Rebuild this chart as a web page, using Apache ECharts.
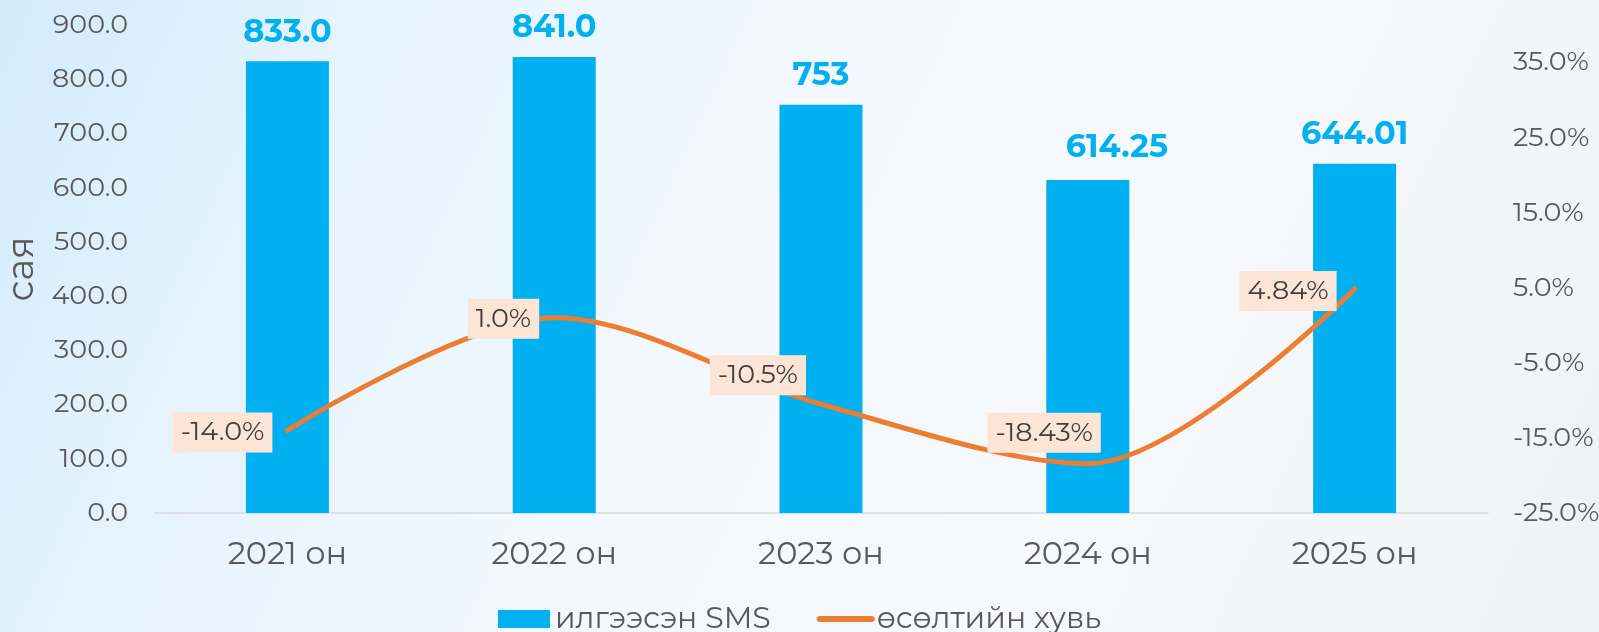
<!DOCTYPE html>
<html>
<head>
<meta charset="utf-8">
<title>SMS</title>
<script src="https://cdn.jsdelivr.net/npm/echarts@6/dist/echarts.min.js"></script>
<style>
    html, body {
        margin: 0;
        padding: 0;
    }
    #chart {
        width: 1599px;
        height: 632px;
        background: linear-gradient(115deg, #d3ebfa 0%, #e4f3fd 18%, #f1f8fe 42%, #f7f9fc 68%, #eef2f6 100%);
    }
</style>
</head>
<body>
<div id="chart"></div>
<script>
const categories = ['2021 он', '2022 он', '2023 он', '2024 он', '2025 он']
const smsValues = [833, 841, 753, 614.25, 644.01]
const smsLabels = ['833.0', '841.0', '753', '614.25', '644.01']
const growthValues = [-14.0, 1.0, -10.5, -18.43, 4.84]
const growthLabels = ['-14.0%', '1.0%', '-10.5%', '-18.43%', '4.84%']
const leftTicks = [0, 100, 200, 300, 400, 500, 600, 700, 800, 900]
const rightTicks = [-25, -15, -5, 5, 15, 25, 35]

const fontFamily = 'Montserrat, "Open Sans", sans-serif'
const barColor = '#00b0f0'
const lineColor = '#ed7d31'

// excel labels were dragged by hand, keep the same nudges
const smsLabelOffsets = [[0, 0], [0, 0], [0, 0], [29, -3], [0, 0]]
const growthLabelOffsets = [[0, 2], [0, 1], [0, -29], [28, -31], [-3, 2]]

const smsData = smsValues.map((v, i) => ({
    value: v,
    label: { offset: smsLabelOffsets[i] }
}))
const growthData = growthValues.map((v, i) => ({
    value: v,
    label: { offset: growthLabelOffsets[i] }
}))

const chart = echarts.init(document.getElementById('chart'))

const option = {
    animation: false,
    textStyle: { fontFamily },
    grid: {
        left: 154,
        right: 111,
        top: 25,
        bottom: 119,
        containLabel: false,
        outerBoundsMode: 'none'
    },
    legend: {
        left: 'center',
        top: 599,
        itemWidth: 52,
        itemHeight: 18,
        itemGap: 46,
        textStyle: {
            fontFamily,
            fontSize: 30,
            color: '#595959'
        },
        data: [
            {
                name: 'илгээсэн SMS',
                icon: 'rect',
                textStyle: { padding: [0, 16, 0, 0] }
            },
            {
                name: 'өсөлтийн хувь',
                itemStyle: { opacity: 0 },
                lineStyle: { width: 6, cap: 'round' }
            }
        ]
    },
    xAxis: {
        type: 'category',
        data: categories,
        axisTick: { show: false },
        axisLine: {
            lineStyle: { color: '#d9d9d9', width: 1.5 }
        },
        axisLabel: {
            color: '#595959',
            fontSize: 32,
            margin: 26
        }
    },
    yAxis: [
        {
            type: 'value',
            min: leftTicks[0],
            max: leftTicks[leftTicks.length - 1],
            interval: 100,
            name: 'сая',
            nameLocation: 'middle',
            nameRotate: 90,
            nameGap: 108,
            nameTextStyle: {
                color: '#595959',
                fontSize: 37
            },
            axisLine: { show: false },
            axisTick: { show: false },
            splitLine: { show: false },
            axisLabel: {
                color: '#595959',
                fontSize: 27,
                margin: 26,
                formatter: v => (leftTicks.indexOf(v) >= 0 ? v.toFixed(1) : '')
            }
        },
        {
            type: 'value',
            min: -25,
            max: 40,
            interval: 5,
            axisLine: { show: false },
            axisTick: { show: false },
            splitLine: { show: false },
            axisLabel: {
                color: '#595959',
                fontSize: 27,
                margin: 25,
                formatter: v => (rightTicks.indexOf(v) >= 0 ? v.toFixed(1) + '%' : '')
            }
        }
    ],
    series: [
        {
            name: 'илгээсэн SMS',
            type: 'bar',
            data: smsData,
            barWidth: 83,
            itemStyle: { color: barColor },
            label: {
                show: true,
                position: 'top',
                distance: 13,
                color: barColor,
                fontSize: 32,
                fontWeight: 'bold',
                formatter: p => smsLabels[p.dataIndex]
            }
        },
        {
            name: 'өсөлтийн хувь',
            type: 'line',
            yAxisIndex: 1,
            data: growthData,
            smooth: 0.32,
            symbol: 'circle',
            symbolSize: 0,
            showSymbol: true,
            z: 3,
            lineStyle: {
                color: lineColor,
                width: 5,
                cap: 'round'
            },
            itemStyle: { color: lineColor },
            label: {
                show: true,
                position: 'left',
                distance: 15,
                color: '#404040',
                fontSize: 27,
                backgroundColor: '#fce4d6',
                padding: [7, 8, 6, 8],
                formatter: p => growthLabels[p.dataIndex]
            }
        }
    ]
}

chart.setOption(option)
</script>
</body>
</html>
